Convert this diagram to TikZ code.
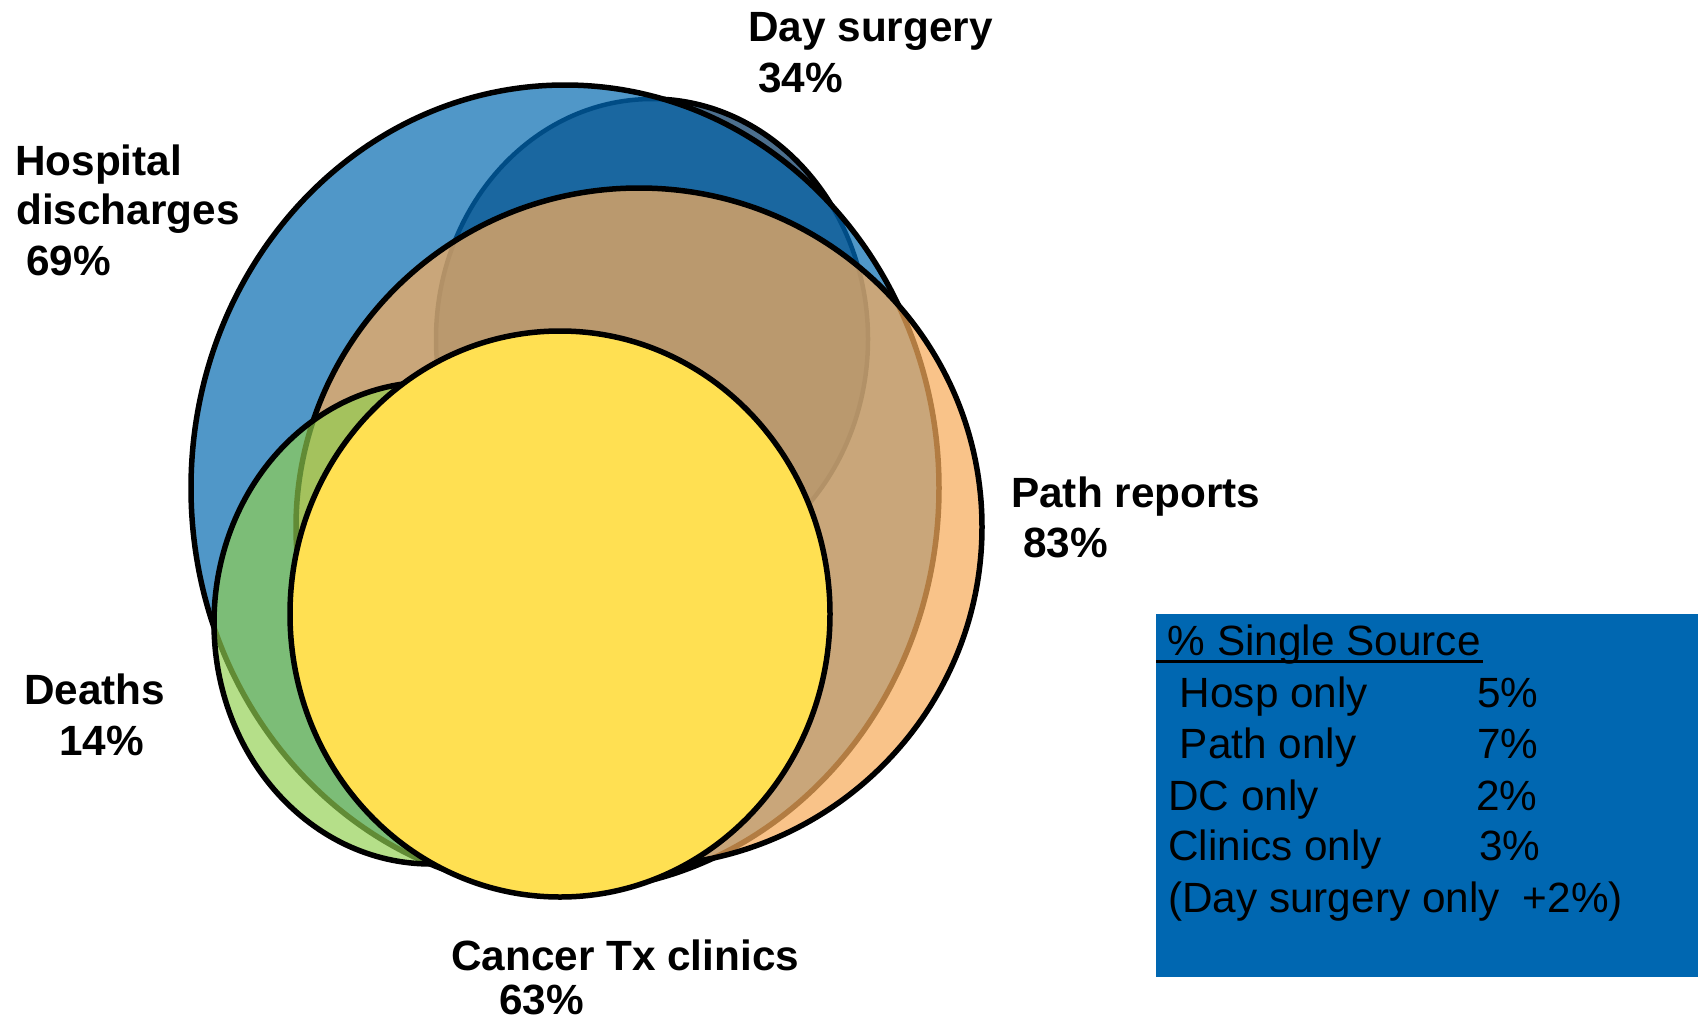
\documentclass[tikz,border=0pt]{standalone}
\usepackage{fontspec}
\setmainfont{Liberation Sans}
\definecolor{hblue}{HTML}{5097C8}
\definecolor{dsblue}{HTML}{1A67A0}
\definecolor{dsline}{HTML}{004C85}
\definecolor{dsgray}{HTML}{4C6F8E}
\definecolor{pathc}{HTML}{F8AD5C}
\definecolor{greenc}{HTML}{92D050}
\definecolor{yellowc}{HTML}{FFE052}
\definecolor{boxc}{HTML}{0067B1}
\tikzset{
  outline/.style={draw=black, line width=5.5pt},
  lbl/.style={anchor=base west, inner sep=0pt, font=\fontsize{42.3}{50}\selectfont\bfseries},
  boxtxt/.style={anchor=base west, inner sep=0pt, font=\fontsize{42.3}{50}\selectfont},
}
\begin{document}
\begin{tikzpicture}[x=1pt,y=-1pt]
\useasboundingbox (0,0) rectangle (1701,1023);
\fill[white] (0,0) rectangle (1701,1023);
% Day surgery (base, outside hospital)
\fill[dsgray] (652,339) ellipse [x radius=216pt, y radius=240pt];
\draw[outline] (652,339) ellipse [x radius=216pt, y radius=240pt];
% Hospital discharges
\fill[hblue] (565,488) ellipse [x radius=374pt, y radius=403pt];
\begin{scope}
  \clip (565,488) ellipse [x radius=374pt, y radius=403pt];
  \fill[dsblue] (652,339) ellipse [x radius=216pt, y radius=240pt];
  \draw[dsline, line width=4.5pt] (652,339) ellipse [x radius=216pt, y radius=240pt];
\end{scope}
\draw[outline] (565,488) ellipse [x radius=374pt, y radius=403pt];
% Path reports
\fill[pathc, fill opacity=0.72] (639,527) ellipse [x radius=343pt, y radius=339pt];
\draw[outline] (639,527) ellipse [x radius=343pt, y radius=339pt];
% Deaths
\fill[greenc, fill opacity=0.67] (431,623) ellipse [x radius=217pt, y radius=241pt];
\draw[outline] (431,623) ellipse [x radius=217pt, y radius=241pt];
% Cancer Tx clinics
\fill[yellowc] (560,614) ellipse [x radius=270pt, y radius=283pt];
\draw[outline] (560,614) ellipse [x radius=270pt, y radius=283pt];
% Labels
\node[lbl] (dsA) at (748,41) {Day surgery};
\node[lbl] (dsB) at (758,92) {34\%};
\node[lbl] (hdA) at (15,175) {Hospital};
\node[lbl] (hdB) at (16,224) {discharges};
\node[lbl] (hdC) at (26,275) {69\%};
\node[lbl] (prA) at (1011,507) {Path reports};
\node[lbl] (prB) at (1023,557) {83\%};
\node[lbl] (dA) at (24,704) {Deaths};
\node[lbl] (dB) at (59,755) {14\%};
\node[lbl] (cA) at (451,970) {Cancer Tx clinics};
\node[lbl] (cB) at (499,1014) {63\%};
% Single source box
\fill[boxc] (1156,614) rectangle (1698,977);
\node[boxtxt] (bt0) at (1156,655) {\rlap{\rule[-7.5pt]{327pt}{3pt}}\hspace*{11.7pt}\% Single Source};
\node[boxtxt] (bt1) at (1168,707) {\makebox[309pt][l]{\hspace*{11.7pt}Hosp only}5\%};
\node[boxtxt] (bt2) at (1168,758) {\makebox[309pt][l]{\hspace*{11.7pt}Path only}7\%};
\node[boxtxt] (bt3) at (1168,810) {\makebox[308pt][l]{DC only}2\%};
\node[boxtxt] (bt4) at (1168,860) {\makebox[311pt][l]{Clinics only}3\%};
\node[boxtxt] (bt5) at (1168,912) {(Day surgery only\hspace*{23.4pt}+2\%)};
\end{tikzpicture}
\end{document}
